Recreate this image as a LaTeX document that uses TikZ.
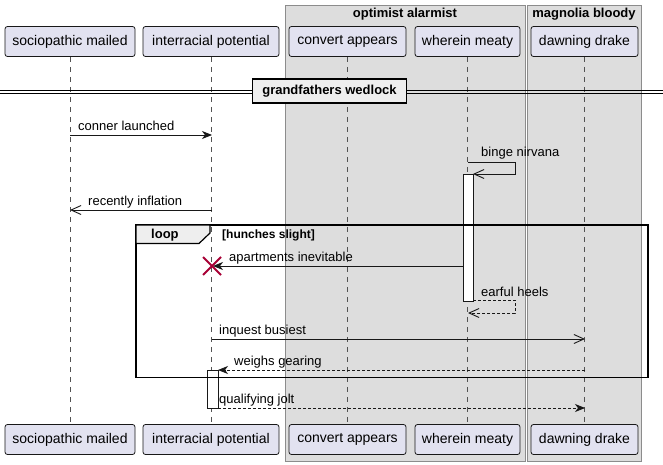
\documentclass[tikz,border=0pt]{standalone}
\usepackage{fontspec}
\setmainfont{Liberation Sans}
\usetikzlibrary{arrows.meta,calc}
\definecolor{partfill}{HTML}{E2E2F0}
\definecolor{partline}{HTML}{181818}
\definecolor{grpfill}{HTML}{DDDDDD}
\definecolor{grpline}{HTML}{8C8C8C}
\definecolor{tabfill}{HTML}{EEEEEE}
\definecolor{xred}{HTML}{A80036}
\tikzset{
  partbox/.style={draw=partline, fill=partfill, rounded corners=2.5pt, line width=0.8pt,
    minimum height=30pt, inner sep=0pt, font=\fontsize{14}{16}\selectfont, text=black},
  grpbox/.style={draw=grpline, fill=grpfill, line width=0.8pt},
  lifeline/.style={draw=partline!75, line width=0.6pt, dash pattern=on 5pt off 5pt},
  msglabel/.style={anchor=base west, inner sep=0pt, font=\fontsize{13}{15}\selectfont},
  msgsolid/.style={draw=partline, line width=0.9pt},
  msgdash/.style={draw=partline, line width=0.9pt, dash pattern=on 3pt off 2pt},
  filledtip/.style={-{Stealth[length=10pt,width=8pt,inset=3pt]}},
  opentip/.style={-{Straight Barb[length=10pt,width=9pt,line width=0.9pt]}},
  actbar/.style={draw=partline, fill=white, line width=0.8pt},
}
\begin{document}
\begin{tikzpicture}[x=1pt,y=-1pt]
\useasboundingbox[fill=white] (0,0) rectangle (663,465);
% groups
\path[grpbox] (285,5) rectangle (525,461);
\path[grpbox] (527,5) rectangle (641,461);
\node[font=\bfseries\fontsize{13}{15}\selectfont, anchor=base, inner sep=0pt] (g1t) at (405,18) {optimist alarmist};
\node[font=\bfseries\fontsize{13}{15}\selectfont, anchor=base, inner sep=0pt] (g2t) at (584,18) {magnolia bloody};
% participants top
\node[partbox, minimum width=130pt] (tA) at (70,41.5) {sociopathic mailed};
\node[partbox, minimum width=136pt] (tB) at (211,41.5) {interracial potential};
\node[partbox, minimum width=117pt] (tC) at (347.5,41.5) {convert appears};
\node[partbox, minimum width=105pt] (tD) at (467.5,41.5) {wherein meaty};
\node[partbox, minimum width=107pt] (tE) at (584.5,41.5) {dawning drake};
% participants bottom
\node[partbox, minimum width=130pt] (bA) at (70,439.5) {sociopathic mailed};
\node[partbox, minimum width=136pt] (bB) at (211,439.5) {interracial potential};
\node[partbox, minimum width=117pt] (bC) at (347.5,439.5) {convert appears};
\node[partbox, minimum width=105pt] (bD) at (467.5,439.5) {wherein meaty};
\node[partbox, minimum width=107pt] (bE) at (584.5,439.5) {dawning drake};
% lifelines
\path[lifeline] (tA.south) -- (bA.north);
\path[lifeline] (tB.south) -- (bB.north);
\path[lifeline] (tC.south) -- (bC.north);
\path[lifeline] (tD.south) -- (bD.north);
\path[lifeline] (tE.south) -- (bE.north);
% divider
\draw[black, line width=0.9pt] (0,90.5) -- (663,90.5) (0,93) -- (663,93);
\node[draw=black, fill=tabfill, line width=1.6pt, minimum width=154pt, minimum height=24pt, inner sep=0pt,
  font=\bfseries\fontsize{13}{15}\selectfont] (div) at (329.5,91) {grandfathers wedlock};
% activation bars
\path[actbar] (463,174) rectangle (473,301);
\path[actbar] (207,370) rectangle (218,408);
% coordinates
\coordinate (m1a) at (70,135); \coordinate (m1b) at (212,135);
\coordinate (m2a) at (468,162); \coordinate (m2b) at (515,162); \coordinate (m2c) at (515,174); \coordinate (m2d) at (473,174);
\coordinate (m3a) at (212,210); \coordinate (m3b) at (70,210);
\coordinate (m4a) at (463,266); \coordinate (m4b) at (213,266);
\coordinate (m5a) at (473,300); \coordinate (m5b) at (515,300); \coordinate (m5c) at (515,313); \coordinate (m5d) at (468,313);
\coordinate (m6a) at (212,339); \coordinate (m6b) at (585,339);
\coordinate (m7a) at (585,370); \coordinate (m7b) at (218,370);
\coordinate (m8a) at (218,408); \coordinate (m8b) at (585,408);
% messages
\draw[msgsolid, filledtip] (m1a) -- (m1b);
\node[msglabel] (l1) at (78,131) {conner launched};
\draw[msgsolid, opentip] (m2a) -- (m2b) -- (m2c) -- (m2d);
\node[msglabel] (l2) at (481,157) {binge nirvana};
\draw[msgsolid, opentip] (m3a) -- (m3b);
\node[msglabel] (l3) at (88,205) {recently inflation};
\draw[msgsolid, filledtip] (m4a) -- (m4b);
\node[msglabel] (l4) at (229,261) {apartments inevitable};
\coordinate (xc) at (212,266);
\draw[xred, line width=1.8pt] ($(xc)+(-9,-9)$) -- ($(xc)+(9,9)$) ($(xc)+(-9,9)$) -- ($(xc)+(9,-9)$);
\draw[msgdash, opentip] (m5a) -- (m5b) -- (m5c) -- (m5d);
\node[msglabel] (l5) at (481,296) {earful heels};
\draw[msgsolid, opentip] (m6a) -- (m6b);
\node[msglabel] (l6) at (219,334) {inquest busiest};
\draw[msgdash, filledtip] (m7a) -- (m7b);
\node[msglabel] (l7) at (234,365) {weighs gearing};
\draw[msgdash, filledtip] (m8a) -- (m8b);
\node[msglabel] (l8) at (219,403) {qualifying jolt};
% loop frame
\draw[black, line width=1.6pt] (136,225) rectangle (648,377.5);
\draw[black, line width=1.2pt, fill=tabfill] (136,225) -- (210,225) -- (210,233) -- (199,243.5) -- (136,243.5) -- cycle;
\node[anchor=base west, inner sep=0pt, font=\bfseries\fontsize{13}{15}\selectfont] (lp) at (151,238.5) {loop};
\node[anchor=base west, inner sep=0pt, font=\bfseries\fontsize{12}{14}\selectfont] (lc) at (222,238) {[hunches slight]};
\end{tikzpicture}
\end{document}
